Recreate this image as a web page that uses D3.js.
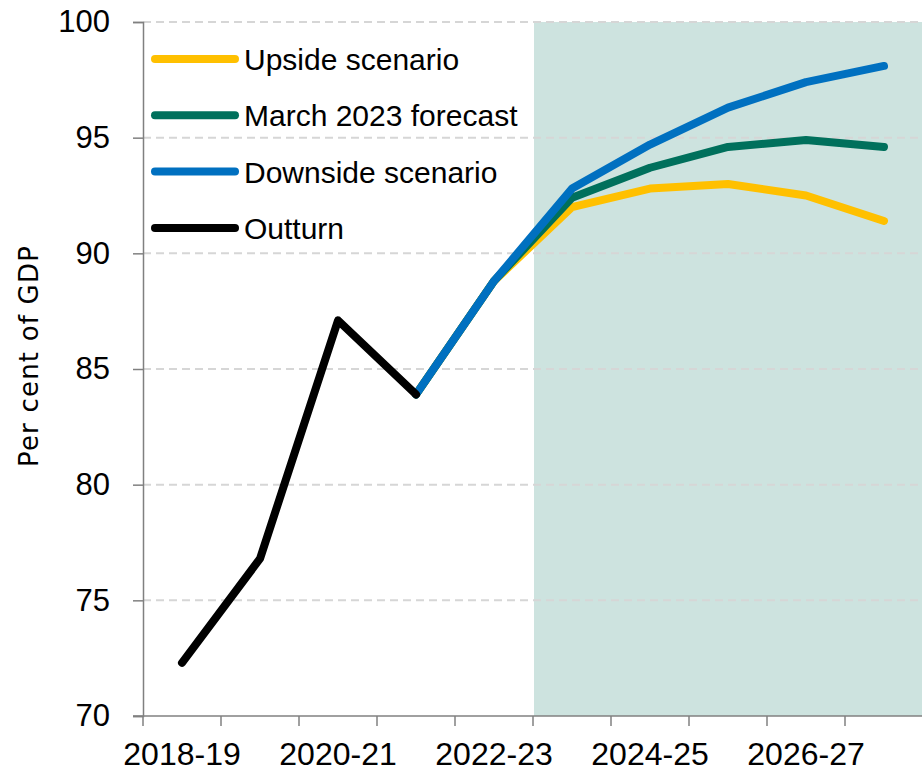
<!DOCTYPE html>
<html lang="en">
  <head>
    <meta charset="UTF-8">
    <title>Public sector net debt scenarios</title>
    <style>
      body { margin: 0; background: #fff; }
      text { font-family: "Liberation Sans", Arial, sans-serif; fill: #000; }
    </style>
  </head>
  <body>
<div id="my_dataviz"></div>
<script src="https://d3js.org/d3.v7.min.js"></script>
<script>

// data
var years = ["2018-19", "2019-20", "2020-21", "2021-22", "2022-23",
             "2023-24", "2024-25", "2025-26", "2026-27", "2027-28"]
var outturnYears = ["2018-19", "2019-20", "2020-21", "2021-22"]
var outturn = [72.3, 76.8, 87.1, 83.9]
var scenarioYears = ["2021-22", "2022-23", "2023-24", "2024-25", "2025-26", "2026-27", "2027-28"]
var upside = [83.9, 88.8, 92.0, 92.8, 93.0, 92.5, 91.4]
var march2023 = [83.9, 88.8, 92.4, 93.7, 94.6, 94.9, 94.6]
var downside = [83.9, 88.8, 92.8, 94.7, 96.3, 97.4, 98.1]
var forecastStart = "2023-24"
var yTicks = [70, 75, 80, 85, 90, 95, 100]

var width = 922,
    height = 771,
    plotLeft = 143,
    plotRight = 923,
    plotTop = 22,
    plotBottom = 716

var svg = d3.select("#my_dataviz")
  .append("svg")
    .attr("width", width)
    .attr("height", height)

var x = d3.scaleBand()
  .domain(years)
  .range([plotLeft, plotRight])
  .padding(0)

var y = d3.scaleLinear()
  .domain([70, 100])
  .range([plotBottom, plotTop])

// forecast shading
svg.append("rect")
  .attr("x", x(forecastStart) + 1)
  .attr("y", y(100))
  .attr("width", width - x(forecastStart))
  .attr("height", y(70) - y(100))
  .attr("fill", "#cde3df")

// gridlines
svg.append("g")
  .selectAll("line")
  .data(yTicks.filter(function(d) { return d > 70 }))
  .enter()
  .append("line")
    .attr("x1", plotLeft)
    .attr("x2", width)
    .attr("y1", function(d) { return y(d) })
    .attr("y2", function(d) { return y(d) })
    .attr("stroke", "#d6d6d6")
    .attr("stroke-width", 2)
    .attr("stroke-dasharray", "8,5")

// y axis
var yAxis = svg.append("g")
  .attr("transform", "translate(" + plotLeft + ",0)")
  .call(d3.axisLeft(y).tickValues(yTicks).tickSize(10).tickPadding(23))
yAxis.select(".domain").attr("stroke", "#808080").attr("stroke-width", 1.5)
yAxis.selectAll(".tick line").attr("stroke", "#808080").attr("stroke-width", 1.5)
yAxis.selectAll("text").style("font-size", "31px").attr("fill", "#000")

// x axis: ticks at the band edges, labels on every other band
var edges = years.map(function(d) { return x(d) })
var xg = svg.append("g")
xg.append("line")
  .attr("x1", plotLeft - 10)
  .attr("x2", width)
  .attr("y1", plotBottom)
  .attr("y2", plotBottom)
  .attr("stroke", "#808080")
  .attr("stroke-width", 1.5)
xg.selectAll(".tk")
  .data(edges)
  .enter()
  .append("line")
    .attr("x1", function(d) { return d })
    .attr("x2", function(d) { return d })
    .attr("y1", plotBottom)
    .attr("y2", plotBottom + 10)
    .attr("stroke", "#808080")
    .attr("stroke-width", 1.5)
xg.selectAll("text")
  .data(years.filter(function(d, i) { return i % 2 == 0 }))
  .enter()
  .append("text")
    .attr("x", function(d) { return x(d) + x.bandwidth() / 2 })
    .attr("y", 765)
    .attr("text-anchor", "middle")
    .style("font-size", "32px")
    .text(function(d) { return d })

// y axis title
svg.append("text")
  .attr("transform", "translate(38,356) rotate(-90)")
  .attr("text-anchor", "middle")
  .style("font-family", "'DejaVu Sans', sans-serif")
  .style("font-size", "26px")
  .style("letter-spacing", "1.2px")
  .text("Per cent of GDP")

// lines
var line = d3.line()
  .x(function(d) { return x(d[0]) + x.bandwidth() / 2 })
  .y(function(d) { return y(d[1]) })

var series = [
  {name: "Upside scenario", color: "#ffc000", cats: scenarioYears, vals: upside},
  {name: "March 2023 forecast", color: "#00705c", cats: scenarioYears, vals: march2023},
  {name: "Downside scenario", color: "#0070c0", cats: scenarioYears, vals: downside},
  {name: "Outturn", color: "#000000", cats: outturnYears, vals: outturn}
]

svg.append("g")
  .selectAll("path")
  .data(series)
  .enter()
  .append("path")
    .attr("d", function(s) { return line(d3.zip(s.cats, s.vals)) })
    .attr("fill", "none")
    .attr("stroke", function(s) { return s.color })
    .attr("stroke-width", 8)
    .attr("stroke-linecap", "round")
    .attr("stroke-linejoin", "round")

// legend
var legend = svg.append("g")
  .selectAll("g")
  .data(series)
  .enter()
  .append("g")
    .attr("transform", function(d, i) { return "translate(0," + (59 + i * 56.3) + ")" })
legend.append("line")
  .attr("x1", 155)
  .attr("x2", 235)
  .attr("stroke", function(d) { return d.color })
  .attr("stroke-width", 8)
  .attr("stroke-linecap", "round")
legend.append("text")
  .attr("x", 244)
  .attr("y", 11)
  .style("font-size", "30px")
  .text(function(d) { return d.name })

</script>
  </body>
</html>
